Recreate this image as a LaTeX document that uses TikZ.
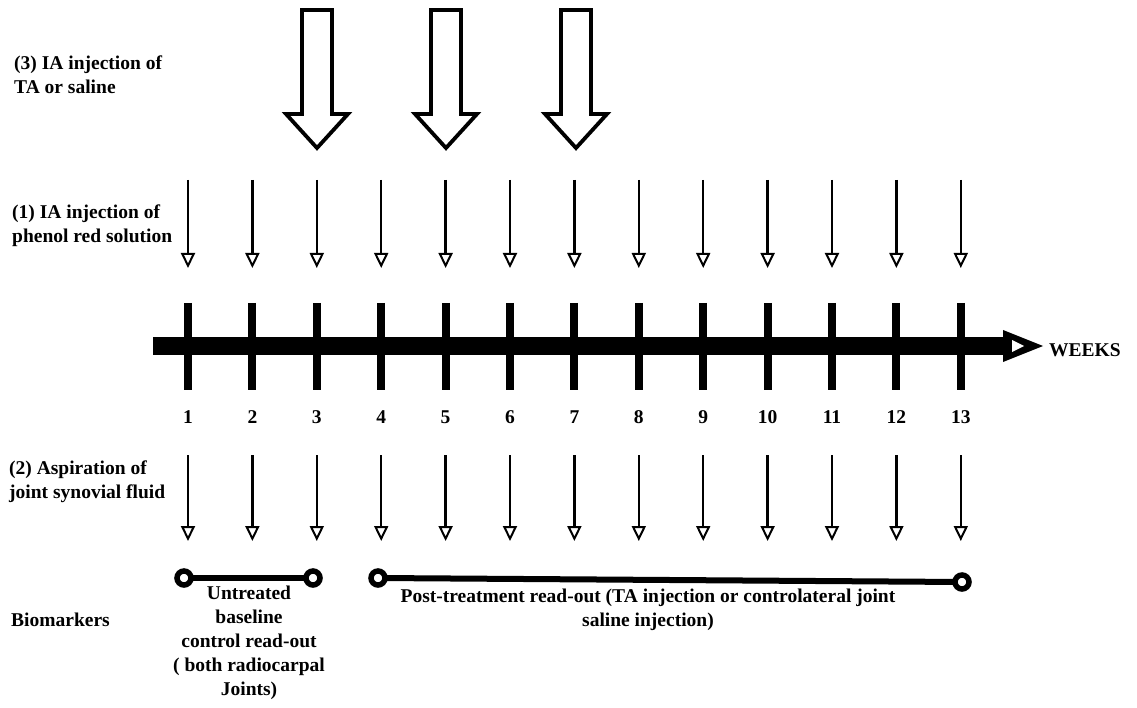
\documentclass[tikz,border=0pt]{standalone}
\usepackage{fontspec}
\setmainfont{Liberation Serif}
\usetikzlibrary{arrows.meta}
\begin{document}
\begin{tikzpicture}[x=1pt,y=-1pt,
  lbl/.style={font=\fontsize{19.5}{24}\selectfont\bfseries, inner sep=0pt, align=left, anchor=west},
  ctr/.style={font=\fontsize{19.5}{24}\selectfont\bfseries, inner sep=0pt, align=center},
  smallarrow/.style={line width=2.3pt, -{Triangle[open,length=15pt,width=14pt,line width=2pt]}},
  tickbar/.style={line width=8pt},
  axisline/.style={line width=18pt},
  bigarrow/.style={line width=3.8pt, line join=miter, fill=white},
  readout/.style={line width=6pt},
  ring/.style={line width=5.5pt, fill=white}]
\useasboundingbox (0,0) rectangle (1137,708);

% labels
\node[lbl] (l3) at (14,75) {(3) IA injection of\\TA or saline};
\node[lbl] (l1) at (12,226) {(1) IA injection of\\phenol red solution};
\node[lbl] (l2) at (9,482) {(2) Aspiration of\\joint synovial fluid};
\node[lbl] (lb) at (11,620) {Biomarkers};

% big hollow arrows (3)
\foreach \cx in {317,446,576}{
  \draw[bigarrow] (\cx-15,10) -- (\cx+15,10) -- (\cx+15,114) -- (\cx+31,114)
     -- (\cx,148) -- (\cx-31,114) -- (\cx-15,114) -- cycle;
}

% axis
\coordinate (axs) at (153,346);
\coordinate (axe) at (1006,346);
\draw[axisline] (axs) -- (axe);
\fill (1003,330) -- (1003,362) -- (1043,346) -- cycle;
\fill[white] (1012,340) -- (1012,352) -- (1024,346) -- cycle;
\node[ctr, anchor=west] (weeks) at (1049,350) {WEEKS};

% ticks, numbers, small arrows
\foreach \i in {1,...,13}{
  \pgfmathsetmacro\xx{188+(\i-1)*64.4}
  \coordinate (tt\i) at (\xx,303);
  \coordinate (tb\i) at (\xx,390);
  \draw[tickbar] (tt\i) -- (tb\i);
  \node[ctr] (n\i) at (\xx,417) {\i};
  \coordinate (it\i) at (\xx,180);
  \coordinate (ib\i) at (\xx,268);
  \draw[smallarrow] (it\i) -- (ib\i);
  \coordinate (at\i) at (\xx,455);
  \coordinate (ab\i) at (\xx,541);
  \draw[smallarrow] (at\i) -- (ab\i);
}

% biomarker read-outs
\coordinate (r1a) at (184,578);
\coordinate (r1b) at (313,578);
\coordinate (r2a) at (378,578);
\coordinate (r2b) at (962,582);
\draw[readout] (r1a) -- (r1b);
\draw[readout] (r2a) -- (r2b);
\foreach \c in {r1a,r1b,r2a,r2b}{ \draw[ring] (\c) circle (7); }

\node[ctr, anchor=north] (untr) at (249,586) {Untreated\\baseline\\control read-out\\( both radiocarpal\\Joints)};
\node[ctr, anchor=north] (post) at (648,589) {Post-treatment read-out (TA injection or controlateral joint\\saline injection)};
\end{tikzpicture}
\end{document}
